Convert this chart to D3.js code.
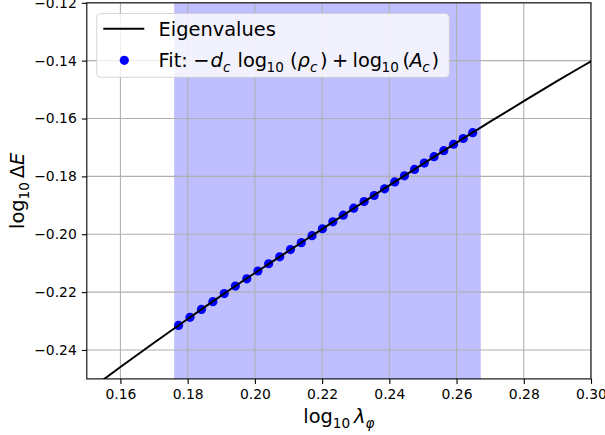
<!DOCTYPE html>
<html>
<head>
<meta charset="utf-8">
<script src="https://cdn.jsdelivr.net/npm/d3@7"></script>
<style>
  body { margin: 0; background: #fff; }
  svg { font-family: 'DejaVu Sans', sans-serif; }
</style>
</head>
<body>
<svg id="chart" width="605" height="435"></svg>
<script>
// eigenvalue curve
const lineX = [0.14, 0.15, 0.16, 0.17, 0.18, 0.19, 0.20, 0.21, 0.22, 0.23, 0.24, 0.25, 0.26, 0.27, 0.28, 0.29, 0.30, 0.31]
const lineY = [-0.2631, -0.2545, -0.2459, -0.2375, -0.2293, -0.2212, -0.2134, -0.2058, -0.1982, -0.1906,
  -0.1831, -0.1757, -0.1683, -0.1611, -0.1540, -0.1470, -0.1402, -0.1334]

// fitted points
const fitX = [0.1773, 0.1807, 0.1841, 0.1875, 0.1909, 0.1942, 0.1976, 0.2009, 0.2041, 0.2074,
  0.2106, 0.2138, 0.2170, 0.2201, 0.2232, 0.2263, 0.2294, 0.2325, 0.2355, 0.2386,
  0.2416, 0.2445, 0.2475, 0.2504, 0.2533, 0.2562, 0.2591, 0.2620, 0.2648]
const fitY = [-0.2315, -0.2287, -0.2260, -0.2233, -0.2205, -0.2179, -0.2154, -0.2127, -0.2102, -0.2078,
  -0.2053, -0.2029, -0.2005, -0.1981, -0.1957, -0.1934, -0.1910, -0.1887, -0.1866, -0.1843,
  -0.1819, -0.1798, -0.1776, -0.1754, -0.1732, -0.1711, -0.1689, -0.1669, -0.1649]

// shaded fit window
const spanRange = [0.176, 0.2672]

const xTicks = [0.16, 0.18, 0.20, 0.22, 0.24, 0.26, 0.28, 0.30]
const yTicks = [-0.24, -0.22, -0.20, -0.18, -0.16, -0.14, -0.12]

const margin = { left: 86.8, top: 2.8, right: 591, bottom: 378.9 }
const labelSize = 19.4
const subSize = 13.6
const svg = d3.select('#chart')

const x = d3.scaleLinear().domain([0.15, 0.30]).range([margin.left, margin.right])
const y = d3.scaleLinear().domain([-0.25, -0.12]).range([margin.bottom, margin.top])

svg.append('clipPath').attr('id', 'plot-clip')
  .append('rect')
  .attr('x', margin.left).attr('y', margin.top)
  .attr('width', margin.right - margin.left)
  .attr('height', margin.bottom - margin.top)

const plot = svg.append('g').attr('clip-path', 'url(#plot-clip)')

// span
plot.append('rect')
  .attr('x', x(spanRange[0]))
  .attr('y', margin.top)
  .attr('width', x(spanRange[1]) - x(spanRange[0]))
  .attr('height', margin.bottom - margin.top)
  .attr('fill', 'rgb(191,191,255)')

// grid
plot.selectAll('.vgrid').data(xTicks).join('line')
  .attr('class', 'vgrid')
  .attr('x1', d => x(d)).attr('x2', d => x(d))
  .attr('y1', margin.top).attr('y2', margin.bottom)
  .attr('stroke', '#b0b0b0').attr('stroke-width', 1.1)
plot.selectAll('.hgrid').data(yTicks).join('line')
  .attr('class', 'hgrid')
  .attr('y1', d => y(d)).attr('y2', d => y(d))
  .attr('x1', margin.left).attr('x2', margin.right)
  .attr('stroke', '#b0b0b0').attr('stroke-width', 1.1)

// fit points
plot.selectAll('.dot').data(fitX.map((d, i) => [d, fitY[i]])).join('circle')
  .attr('class', 'dot')
  .attr('cx', d => x(d[0]))
  .attr('cy', d => y(d[1]))
  .attr('r', 4.6)
  .attr('fill', '#0000ff')

// eigenvalue line
plot.append('path')
  .datum(lineX.map((d, i) => [d, lineY[i]]))
  .attr('d', d3.line().x(d => x(d[0])).y(d => y(d[1])).curve(d3.curveMonotoneX))
  .attr('fill', 'none')
  .attr('stroke', '#000')
  .attr('stroke-width', 2)

// axes
const xAxis = svg.append('g')
  .attr('transform', 'translate(0,' + margin.bottom + ')')
  .call(d3.axisBottom(x).tickValues(xTicks).tickFormat(d3.format('.2f')).tickSize(5).tickPadding(5).tickSizeOuter(0))
const yAxis = svg.append('g')
  .attr('transform', 'translate(' + margin.left + ',0)')
  .call(d3.axisLeft(y).tickValues(yTicks).tickFormat(d => d3.format('.2f')(d).replace('-', '\u2212')).tickSize(5).tickPadding(5).tickSizeOuter(0))

for (const a of [xAxis, yAxis]) {
  a.select('.domain').remove()
  a.selectAll('.tick line').attr('stroke', '#000').attr('stroke-width', 1.1)
  a.selectAll('.tick text').attr('fill', '#000').attr('font-size', 13.9).attr('font-family', 'DejaVu Sans')
}

// spines
svg.append('rect')
  .attr('x', margin.left).attr('y', margin.top)
  .attr('width', margin.right - margin.left)
  .attr('height', margin.bottom - margin.top)
  .attr('fill', 'none')
  .attr('stroke', '#000')
  .attr('stroke-width', 1.1)

// axis labels
const xl = svg.append('text')
  .attr('x', (margin.left + margin.right) / 2)
  .attr('y', 423)
  .attr('text-anchor', 'middle')
  .attr('font-size', labelSize)
xl.append('tspan').text('log')
xl.append('tspan').attr('font-size', subSize).attr('dy', 5).text('10')
xl.append('tspan').attr('dy', -5).attr('font-style', 'italic').text('\u2009λ')
xl.append('tspan').attr('font-size', subSize).attr('dy', 5).attr('font-style', 'italic').text('φ')

const yl = svg.append('text')
  .attr('transform', 'translate(24,' + ((margin.top + margin.bottom) / 2) + ') rotate(-90)')
  .attr('text-anchor', 'middle')
  .attr('font-size', labelSize)
yl.append('tspan').text('log')
yl.append('tspan').attr('font-size', subSize).attr('dy', 5).text('10')
yl.append('tspan').attr('dy', -5).text('\u2009Δ')
yl.append('tspan').attr('font-style', 'italic').text('E')

// legend
const legend = svg.append('g')
legend.append('rect')
  .attr('x', 96.7).attr('y', 13.5)
  .attr('width', 352.6).attr('height', 63.8)
  .attr('rx', 4)
  .attr('fill', '#fff').attr('fill-opacity', 0.8)
  .attr('stroke', '#cccccc').attr('stroke-opacity', 0.8)
legend.append('line')
  .attr('x1', 103.3).attr('x2', 144.3)
  .attr('y1', 28.7).attr('y2', 28.7)
  .attr('stroke', '#000').attr('stroke-width', 2)
legend.append('circle')
  .attr('cx', 124.3).attr('cy', 60.3).attr('r', 4.6)
  .attr('fill', '#0000ff')
legend.append('text')
  .attr('x', 158.5).attr('y', 36.3)
  .attr('font-size', labelSize)
  .text('Eigenvalues')

// mathtext label, pieces placed like matplotlib lays them out
const ft = legend.append('text').attr('y', 67.3).attr('font-size', labelSize)
const parts = [
  ['Fit:', 158.5, {}],
  ['\u2212', 193.3, {}],
  ['d', 210.5, { it: true }],
  ['c', 223, { it: true, sub: true }],
  ['log', 237.5, {}],
  ['10', 266.5, { sub: true }],
  ['(', 290, {}],
  ['ρ', 297.5, { it: true }],
  ['c', 310, { it: true, sub: true }],
  [')', 320, {}],
  ['+', 332, {}],
  ['log', 352.5, {}],
  ['10', 381.5, { sub: true }],
  ['(', 402.5, {}],
  ['A', 409.5, { it: true }],
  ['c', 422.3, { it: true, sub: true }],
  [')', 431.5, {}]
]
for (const [t, px, o] of parts) {
  const s = ft.append('tspan').attr('x', px).text(t)
  if (o.it) s.attr('font-style', 'italic')
  if (o.sub) s.attr('font-size', subSize).attr('y', 72.3)
  else s.attr('y', 67.3)
}
</script>
</body>
</html>
